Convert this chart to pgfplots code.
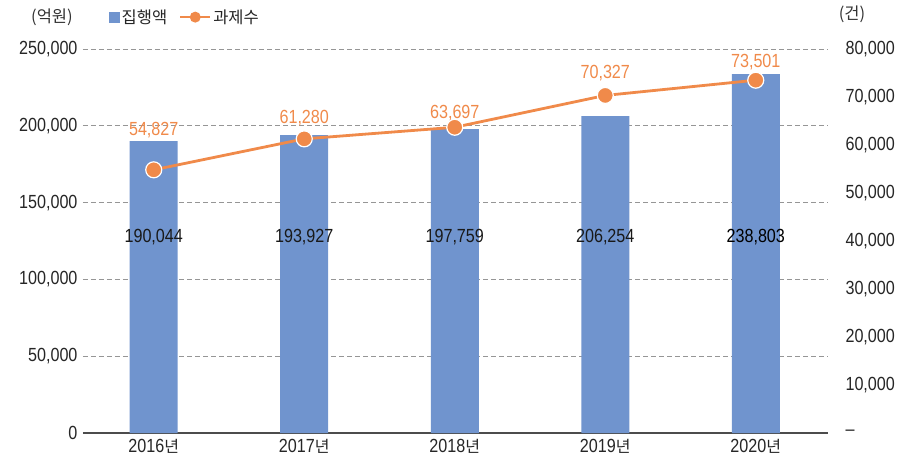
\documentclass[border=0pt]{standalone}
\usepackage{pgfplots}
\pgfplotsset{compat=1.18}
\usepackage{fontspec}
\setmainfont[FakeStretch=0.85]{Liberation Sans}
\newfontfamily\kr{Noto Sans CJK KR}
\definecolor{barblue}{RGB}{112,148,206}
\definecolor{lineorange}{RGB}{240,138,74}
\definecolor{gridgray}{RGB}{150,150,150}
\newcommand{\numfont}{\fontsize{19bp}{22bp}\selectfont}
\newcommand{\krfont}{\kr\fontsize{16.5bp}{19bp}\selectfont}
\newcommand{\krtick}{\kr\fontsize{16bp}{19bp}\selectfont}
\begin{document}
\begin{tikzpicture}
\useasboundingbox (-83bp,-28bp) rectangle (831bp,433bp);
\begin{axis}[
  scale only axis, width=745bp, height=384bp,
  at={(0,0)}, anchor=south west,
  xmin=-0.47, xmax=4.48,
  ymin=0, ymax=250000,
  ytick={0,50000,100000,150000,200000,250000},
  scaled y ticks=false,
  yticklabel style={/pgf/number format/fixed, /pgf/number format/1000 sep={,}, /pgf/number format/assume math mode=true, /tikz/xshift=-2bp},
  ticklabel style={font=\numfont, text=black!85},
  axis x line*=bottom, axis y line*=left,
  y axis line style={draw=none},
  x axis line style={draw=black!70, line width=1.2pt, -},
  major tick length=0pt,
  ymajorgrids, grid style={gridgray, line width=0.9pt, dash pattern=on 5bp off 3bp},
  xtick={0,1,2,3,4},
  xticklabels={{2016{\krtick 년}},{2017{\krtick 년}},{2018{\krtick 년}},{2019{\krtick 년}},{2020{\krtick 년}}},
  xticklabel style={yshift=-3bp},
  clip=false,
]
\addplot[ybar, bar width=48bp, bar shift=0pt, fill=barblue, draw=none]
  coordinates {(0,190044) (1,193927) (2,197759) (3,206254) (4,233700)};
\node[font=\numfont, text=black!90] at (axis cs:0,127600) {190,044};
\node[font=\numfont, text=black!90] at (axis cs:1,127600) {193,927};
\node[font=\numfont, text=black!90] at (axis cs:2,127600) {197,759};
\node[font=\numfont, text=black!90] at (axis cs:3,127600) {206,254};
\node[font=\numfont, text=black] at (axis cs:4,127600) {238,803};
\node[font=\krfont, text=black!80] at (rel axis cs:0,1) [xshift=-31bp, yshift=32bp] {(억원)};
\node[font=\krfont, text=black!80] at (rel axis cs:1,1) [xshift=24bp, yshift=35bp] {(건)};
\end{axis}
\begin{axis}[
  scale only axis, width=745bp, height=384bp,
  at={(0,0)}, anchor=south west,
  xmin=-0.47, xmax=4.48,
  ymin=0, ymax=80000,
  scaled y ticks=false,
  axis x line=none, axis y line*=right,
  y axis line style={draw=none},
  major tick length=0pt,
  ytick={0,10000,20000,30000,40000,50000,60000,70000,80000},
  yticklabels={{--},{10,000},{20,000},{30,000},{40,000},{50,000},{60,000},{70,000},{80,000}},
  yticklabel style={font=\numfont, text=black!85, anchor=west, xshift=14bp},
  xtick=\empty,
  clip=false,
  legend style={at={(rel axis cs:0.137,1.083)}, anchor=center, draw=none, fill=none,
    legend columns=-1, font=\krfont, text=black!85,
    /tikz/every even column/.append style={column sep=10bp}},
]
\addlegendimage{legend image code/.code={\fill[barblue] (0bp,-5bp) rectangle (10bp,5bp);}}
\addlegendentry{집행액}
\addplot[lineorange, line width=2.8bp, mark=*, mark size=8bp,
  mark options={fill=lineorange, draw=white, line width=1.2bp},
  legend image code/.code={\draw[lineorange, line width=2bp] (-2bp,0bp) -- (28bp,0bp); \fill[lineorange] (13bp,0bp) circle (4bp);}]
  coordinates {(0,54827) (1,61280) (2,63697) (3,70327) (4,73501)};
\addlegendentry{과제수}
\node[font=\numfont, text=lineorange] at (axis cs:0,63125) {54,827};
\node[font=\numfont, text=lineorange] at (axis cs:1,65625) {61,280};
\node[font=\numfont, text=lineorange] at (axis cs:2,66667) {63,697};
\node[font=\numfont, text=lineorange] at (axis cs:3,75000) {70,327};
\node[font=\numfont, text=lineorange] at (axis cs:4,77300) {73,501};
\end{axis}
\end{tikzpicture}
\end{document}
